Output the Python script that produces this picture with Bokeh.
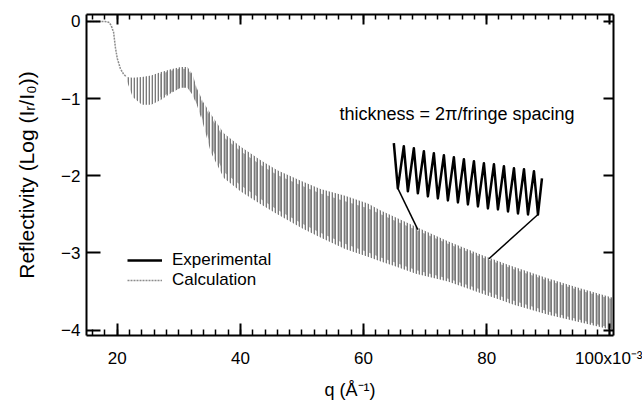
from bokeh.plotting import figure
from bokeh.models import (Range1d, LinearAxis, SingleIntervalTicker, Legend, LegendItem,
                          Label, CustomJSTickFormatter)
from bokeh.embed import file_html
from bokeh.resources import INLINE

# q in units of 1e-3 A^-1 ; reflectivity as log10(Ir/I0)
calc_q_start = [15.0, 16.5, 18.0, 18.6, 19.0, 19.4, 19.7, 20.0, 20.5, 21.0, 21.5]
calc_r_start = [0.0, 0.0, 0.0, -0.01, -0.05, -0.14, -0.34, -0.48, -0.61, -0.68, -0.72]

# envelope of the fringe band (calculation)
band_q = [21.5, 22.5, 24.0, 25.5, 27.0, 28.7, 30.3, 31.4, 32.2, 33.0, 34.0, 35.2, 37.3,
          40.0, 43.3, 46.0, 50.0, 53.0, 57.0, 60.7, 62.8, 65.0, 68.5, 73.7, 79.3, 84.4,
          90.0, 95.3, 100.5]
calc_upper = [-0.72, -0.73, -0.72, -0.70, -0.66, -0.62, -0.59, -0.59, -0.68, -0.88, -1.05,
              -1.20, -1.45, -1.62, -1.80, -1.93, -2.07, -2.17, -2.26, -2.36, -2.45, -2.53,
              -2.66, -2.85, -3.03, -3.18, -3.33, -3.46, -3.58]
calc_lower = [-0.76, -0.98, -1.08, -1.08, -1.02, -0.93, -0.86, -0.86, -0.95, -1.10, -1.35,
              -1.70, -2.03, -2.20, -2.37, -2.50, -2.68, -2.80, -2.95, -3.05, -3.11, -3.17,
              -3.27, -3.37, -3.53, -3.67, -3.80, -3.90, -4.00]

# envelope of the fringe band (experimental)
exp_q = [27.0, 28.7, 30.3, 31.4, 32.2, 33.0, 34.0, 35.2, 37.3, 40.0, 43.3, 46.0, 50.0, 53.0,
         57.0, 60.7, 62.8, 65.0, 68.5, 73.7, 79.3, 84.4, 90.0, 95.3, 100.5]
exp_upper = [-0.68, -0.64, -0.61, -0.62, -0.70, -0.90, -1.08, -1.24, -1.50, -1.68, -1.86,
             -1.99, -2.13, -2.23, -2.33, -2.42, -2.50, -2.58, -2.70, -2.88, -3.06, -3.21,
             -3.36, -3.49, -3.60]
exp_lower = [-0.98, -0.92, -0.86, -0.86, -0.95, -1.08, -1.30, -1.62, -1.95, -2.12, -2.30,
             -2.44, -2.62, -2.74, -2.88, -2.99, -3.06, -3.12, -3.22, -3.33, -3.48, -3.62,
             -3.76, -3.87, -3.98]

# magnified fringe inset (experimental)
inset_top_q = [64.92, 66.54, 68.17, 69.80, 71.42, 73.05, 74.67, 76.30, 77.93, 79.55, 81.18,
               82.80, 84.43, 86.06, 87.68]
inset_top_r = [-1.577, -1.616, -1.642, -1.681, -1.707, -1.733, -1.759, -1.785, -1.811,
               -1.837, -1.850, -1.876, -1.902, -1.915, -1.941]
inset_bot_q = [65.57, 67.20, 68.82, 70.45, 72.07, 73.70, 75.33, 76.95, 78.58, 80.20, 81.83,
               83.46, 85.08, 86.71, 88.33]
inset_bot_r = [-2.163, -2.202, -2.228, -2.267, -2.293, -2.319, -2.345, -2.371, -2.397,
               -2.423, -2.436, -2.463, -2.489, -2.502, -2.502]
inset_end_q = 88.98
inset_end_r = -2.033
connector_q = [[65.57, 68.82], [88.33, 80.37]]
connector_r = [[-2.163, -2.697], [-2.502, -3.075]]

x_label_overrides = {100: "100x10\u207b\u00b3"}

FONT = "Liberation Sans"
X_MIN, X_MAX, Y_MIN, Y_MAX = 15, 100.6, -4.07, 0.09

inset_q, inset_r = [], []
for tq, tr, bq, br in zip(inset_top_q, inset_top_r, inset_bot_q, inset_bot_r):
    inset_q += [tq, bq]
    inset_r += [tr, br]
inset_q.append(inset_end_q)
inset_r.append(inset_end_r)

p = figure(width=642, height=404, x_range=Range1d(X_MIN, X_MAX), y_range=Range1d(Y_MIN, Y_MAX),
           output_backend="svg", toolbar_location=None,
           min_border_left=86, min_border_right=29, min_border_top=14, min_border_bottom=69,
           x_axis_label="q (\u00c5\u207b\u00b9)",
           y_axis_label="Reflectivity (Log (I\u1d63/I\u2080))")
p.grid.visible = False
p.outline_line_color = None
p.background_fill_color = "white"
p.border_fill_color = "white"

p.xaxis.ticker = SingleIntervalTicker(interval=20, num_minor_ticks=10)
p.yaxis.ticker = SingleIntervalTicker(interval=1, num_minor_ticks=0)
p.xaxis.major_label_overrides = x_label_overrides

def style(ax, major_in, minor_in):
    ax.axis_line_width = 2
    ax.axis_line_color = "black"
    ax.major_tick_in = major_in
    ax.major_tick_out = 0
    ax.minor_tick_in = minor_in
    ax.minor_tick_out = 0
    ax.major_tick_line_width = 2
    ax.minor_tick_line_width = 1.5
    ax.major_label_text_font = FONT
    ax.major_label_text_font_size = "17px"
    ax.major_label_text_color = "black"
    ax.axis_label_text_font = FONT
    ax.axis_label_text_font_style = "normal"
    ax.axis_label_text_color = "black"

for ax in p.xaxis:
    style(ax, 12, 6)
    ax.major_label_standoff = 13
    ax.axis_label_standoff = 9
    ax.axis_label_text_font_size = "18px"
for ax in p.yaxis:
    style(ax, 14, 0)
    ax.major_label_standoff = 6
    ax.axis_label_standoff = 20
    ax.axis_label_text_font_size = "21px"

empty = CustomJSTickFormatter(code="return ''")
top = LinearAxis(ticker=SingleIntervalTicker(interval=20, num_minor_ticks=10), formatter=empty)
style(top, 10, 5)
top.major_label_text_font_size = "0px"
top.major_label_standoff = 0
p.add_layout(top, "above")
right = LinearAxis(ticker=SingleIntervalTicker(interval=1, num_minor_ticks=0), formatter=empty)
style(right, 10, 0)
right.major_label_text_font_size = "0px"
right.major_label_standoff = 0
p.add_layout(right, "right")

# calculation: smooth part and fringe band
calc_r = p.line(calc_q_start, calc_r_start, line_color="#8c8c8c", line_width=1.5,
                line_dash="2 1")
p.varea(x=band_q, y1=calc_lower, y2=calc_upper, fill_alpha=0,
        hatch_pattern="|", hatch_color="#7a7a7a", hatch_scale=3, hatch_weight=1.7)
# experimental fringe band
p.varea(x=exp_q, y1=exp_lower, y2=exp_upper, fill_alpha=0,
        hatch_pattern="|", hatch_color="black", hatch_scale=6, hatch_weight=1,
        hatch_alpha=0.6)

# magnified fringes and connectors
exp_r = p.line(inset_q, inset_r, line_color="black", line_width=2.5, line_join="round")
p.multi_line(connector_q, connector_r, line_color="black", line_width=1.5)

p.add_layout(Label(x=56.1, y=-1.2, text="thickness = 2\u03c0/fringe spacing",
                   text_font=FONT, text_font_size="18px", text_baseline="middle",
                   text_color="black"))

legend = Legend(items=[LegendItem(label="Experimental", renderers=[exp_r]),
                       LegendItem(label="Calculation", renderers=[calc_r])],
                location=(41, 45), padding=0, margin=0, spacing=-8,
                glyph_width=35, glyph_height=14, label_standoff=10, label_height=14,
                border_line_color=None, background_fill_alpha=0,
                label_text_font=FONT, label_text_font_size="17px",
                label_text_color="black")
p.add_layout(legend)

open("out.html", "w").write(file_html(p, INLINE))
